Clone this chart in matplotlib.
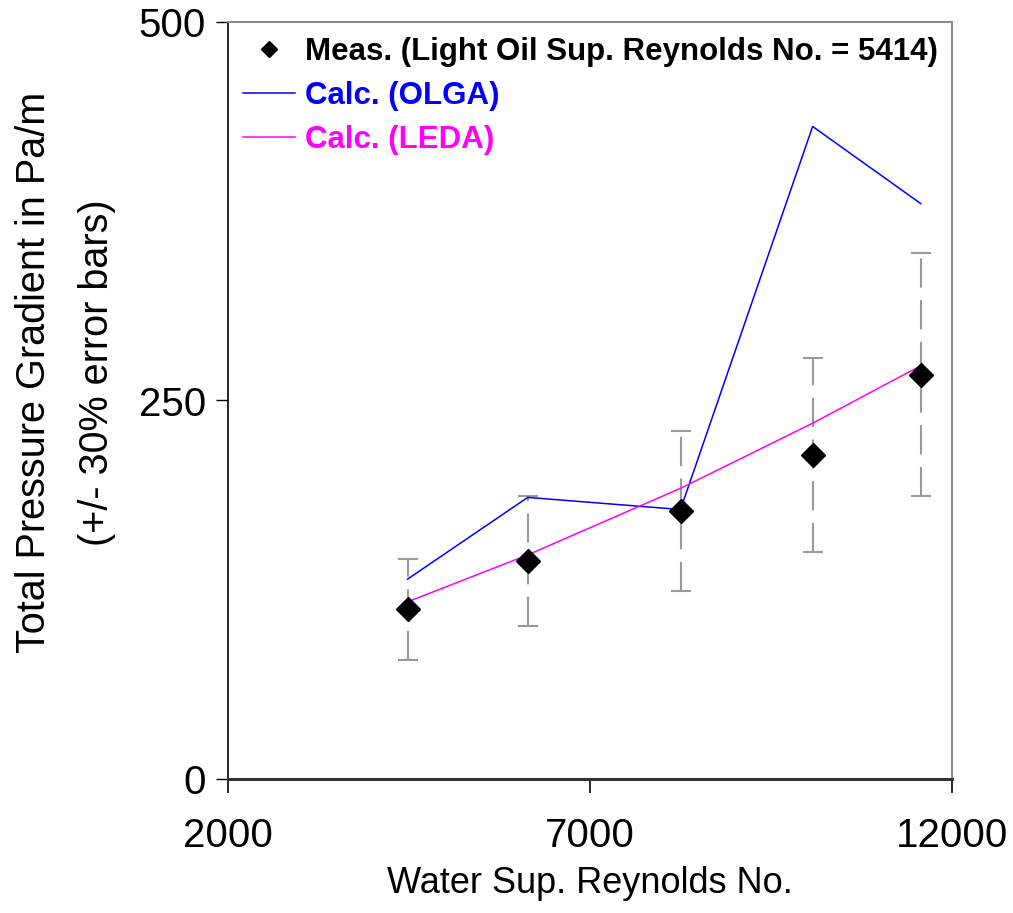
import matplotlib
matplotlib.use("Agg")
import matplotlib.pyplot as plt
from matplotlib.lines import Line2D

plt.rcParams['font.family'] = ['Liberation Sans', 'DejaVu Sans']

# Data
water_re = [4480, 6140, 8250, 10075, 11570]
meas = [112, 144, 177, 214, 267]
olga = [132, 186, 178, 431, 380]
leda = [117, 148, 192, 235, 273]
err_frac = 0.30

x_ticks = [2000, 7000, 12000]
y_ticks = [0, 250, 500]

fig = plt.figure(figsize=(10.13, 9.13), dpi=100)
ax = fig.add_axes([228/1013, 1 - 779/913, (952-228)/1013, (779-22)/913])

errs = [m * err_frac for m in meas]
eb = ax.errorbar(water_re, meas, yerr=errs, fmt='none', ecolor='#9a9a9a',
                 elinewidth=1.5, capsize=7.5, capthick=1.5, zorder=2)
for lc in eb[2]:
    lc.set_linestyle((0, (14, 6)))

ax.plot(water_re, olga, color='#0000ff', lw=1.1, zorder=3)
ax.plot(water_re, leda, color='#ff00ff', lw=1.1, zorder=3)
ax.plot(water_re, meas, linestyle='none', marker='D', markersize=12,
        color='black', zorder=4)

ax.set_xlim(2000, 12000)
ax.set_ylim(0, 500)
ax.set_xticks(x_ticks)
ax.set_yticks(y_ticks)
ax.set_xticklabels([str(v) for v in x_ticks])
ax.set_yticklabels([str(v) for v in y_ticks])
ax.tick_params(axis='x', direction='out', length=10, width=1.2, pad=17, labelsize=29)
ax.tick_params(axis='y', direction='out', length=9, width=1.0, pad=7, labelsize=29)

for s in ['top', 'right']:
    ax.spines[s].set_color('#8c8c8c')
    ax.spines[s].set_linewidth(1.5)
ax.spines['left'].set_color('black')
ax.spines['left'].set_linewidth(1.2)
ax.spines['bottom'].set_color('#333333')
ax.spines['bottom'].set_linewidth(2.2)

ax.set_xlabel('Water Sup. Reynolds No.', fontsize=26, labelpad=8)
ax.set_ylabel('Total Pressure Gradient in Pa/m\n(+/- 30% error bars)',
              fontsize=28.5, labelpad=16, linespacing=1.85)
ax.yaxis.label.set_y(0.537)

handles = [
    Line2D([], [], linestyle='none', marker='D', markersize=8, color='black'),
    Line2D([], [], color='#0000ff', lw=1.1),
    Line2D([], [], color='#ff00ff', lw=1.1),
]
labels = ['Meas. (Light Oil Sup. Reynolds No. = 5414)', 'Calc. (OLGA)', 'Calc. (LEDA)']
leg = ax.legend(handles, labels, loc='upper left', bbox_to_anchor=(0.021, 0.98),
                borderaxespad=0, borderpad=0, frameon=False,
                prop={'size': 22.5, 'weight': 'bold'}, handlelength=1.65,
                handletextpad=0.33, labelspacing=0.45)
for txt, c in zip(leg.get_texts(), ['black', '#0000ff', '#ff00ff']):
    txt.set_color(c)

fig.savefig('out.png', dpi=100)
